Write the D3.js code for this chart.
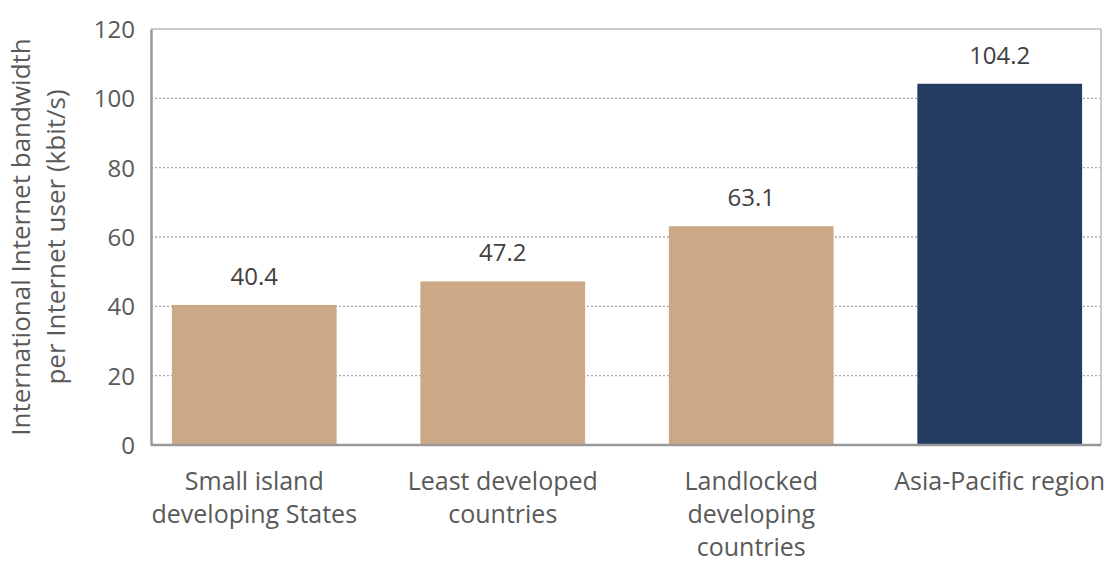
<!DOCTYPE html>
<html><head><meta charset="utf-8">
<script src="https://cdn.jsdelivr.net/npm/d3@7"></script>
<style>body{margin:0;background:#fff;} svg{display:block;font-family:"Open Sans",sans-serif;}</style>
</head><body><svg id="c" width="1113" height="564"></svg>
<script>
const categories = [["Small island","developing States"],["Least developed","countries"],["Landlocked","developing","countries"],["Asia-Pacific region"]];
const values = [40.4, 47.2, 63.1, 104.2];
const colors = ["#CBA987","#CBA987","#CBA987","#243C62"];
const yTicks = [0,20,40,60,80,100,120];
const yTitle = ["International Internet bandwidth","per Internet user (kbit/s)"];

const svg = d3.select("#c");
const L=151, R=1101, T=29, B=445;
const x = d3.scaleBand().domain(d3.range(values.length)).range([L+2,R]).paddingInner(0.337).paddingOuter(0.076);
const y = d3.scaleLinear().domain([0,120]).range([B,T]);
const FS = 24;
const TXT = "#595959";

// grid
svg.append("g").selectAll("line").data(yTicks.filter(t=>t>0 && t<120)).join("line")
  .attr("x1",L).attr("x2",R).attr("y1",d=>y(d)).attr("y2",d=>y(d))
  .attr("stroke","#aaa").attr("stroke-width",1.3).attr("stroke-dasharray","2,2");
// top & right border
svg.append("line").attr("x1",L).attr("x2",R).attr("y1",T).attr("y2",T).attr("stroke","#bbb").attr("stroke-width",1.5);
svg.append("line").attr("x1",R).attr("x2",R).attr("y1",T).attr("y2",B).attr("stroke","#bbb").attr("stroke-width",1.5);

// bars
svg.append("g").selectAll("rect").data(values).join("rect")
  .attr("x",(d,i)=>x(i)).attr("width",x.bandwidth())
  .attr("y",d=>y(d)).attr("height",d=>B-y(d)).attr("fill",(d,i)=>colors[i]);

// value labels
svg.append("g").selectAll("text").data(values).join("text")
  .attr("x",(d,i)=>x(i)+x.bandwidth()/2).attr("y",d=>y(d)-20)
  .attr("text-anchor","middle").attr("font-size",FS).attr("fill","#404040")
  .text(d=>d.toFixed(1));

// y axis
const yAxis = d3.axisLeft(y).tickValues(yTicks).tickSize(0).tickPadding(16);
const gy = svg.append("g").attr("transform",`translate(${L},0)`).call(yAxis);
gy.select(".domain").attr("stroke","#999").attr("stroke-width",2.5);
gy.selectAll("text").attr("font-size",FS).attr("fill",TXT).attr("font-family","Open Sans").attr("dy","0.35em");

// x axis
const xAxis = d3.axisBottom(x).tickSize(0).tickFormat("");
const gx = svg.append("g").attr("transform",`translate(0,${B})`).call(xAxis);
gx.select(".domain").attr("stroke","#999").attr("stroke-width",2.5).attr("d",`M${L},0H${R}`);

const xl = svg.append("g").selectAll("text").data(categories).join("text")
  .attr("text-anchor","middle").attr("font-size",25).attr("fill",TXT)
  .attr("transform",(d,i)=>`translate(${x(i)+x.bandwidth()/2},${B+45})`);
xl.selectAll("tspan").data(d=>d).join("tspan").attr("x",0).attr("dy",(d,j)=>j===0?0:33).text(d=>d);

// y title
const yt = svg.append("text").attr("transform","translate(30,237) rotate(-90)")
  .attr("text-anchor","middle").attr("font-size",26).attr("fill",TXT);
yt.selectAll("tspan").data(yTitle).join("tspan").attr("x",0).attr("dy",(d,j)=>j===0?0:35).text(d=>d);
</script></body></html>
